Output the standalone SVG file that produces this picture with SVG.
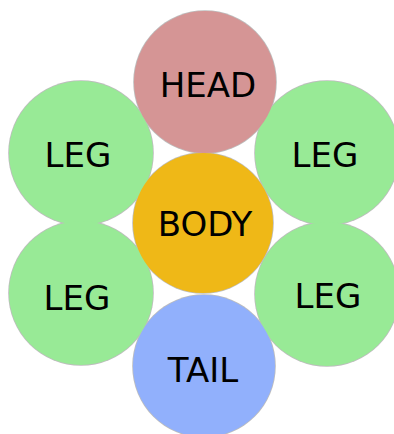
<svg xmlns="http://www.w3.org/2000/svg" width="394" height="434" viewBox="0 0 394 434">
<style>
.outline circle { fill: #bdbdbd; }
.leg { fill: #98ea96; }
.head { fill: #d59595; }
.body { fill: #efb817; }
.tail { fill: #91b0fc; }
text { font-family: "DejaVu Sans", sans-serif; font-size: 34px; fill: #000; text-anchor: middle; }
</style>
<rect width="394" height="434" fill="#ffffff"/>
<g id="connectors"></g>
<g class="outline">
<circle cx="81" cy="153" r="72.8"/>
<circle cx="327" cy="153" r="72.8"/>
<circle cx="81" cy="293" r="72.8"/>
<circle cx="327" cy="294" r="72.8"/>
<circle cx="205" cy="82" r="71.8"/>
<circle cx="203" cy="223" r="70.8"/>
<circle cx="204" cy="366" r="71.8"/>
</g>
<g id="leg-tl"><circle class="leg" cx="81" cy="153" r="72"/><text x="78" y="167">LEG</text></g>
<g id="leg-tr"><circle class="leg" cx="327" cy="153" r="72"/><text x="325" y="167">LEG</text></g>
<g id="leg-bl"><circle class="leg" cx="81" cy="293" r="72"/><text x="77" y="310">LEG</text></g>
<g id="leg-br"><circle class="leg" cx="327" cy="294" r="72"/><text x="328" y="308">LEG</text></g>
<g id="head"><circle class="head" cx="205" cy="82" r="71"/><text x="208" y="97">HEAD</text></g>
<g id="body"><circle class="body" cx="203" cy="223" r="70"/><text x="205" y="236">BODY</text></g>
<g id="tail"><circle class="tail" cx="204" cy="366" r="71"/><text x="203" y="382">TAIL</text></g>
</svg>
